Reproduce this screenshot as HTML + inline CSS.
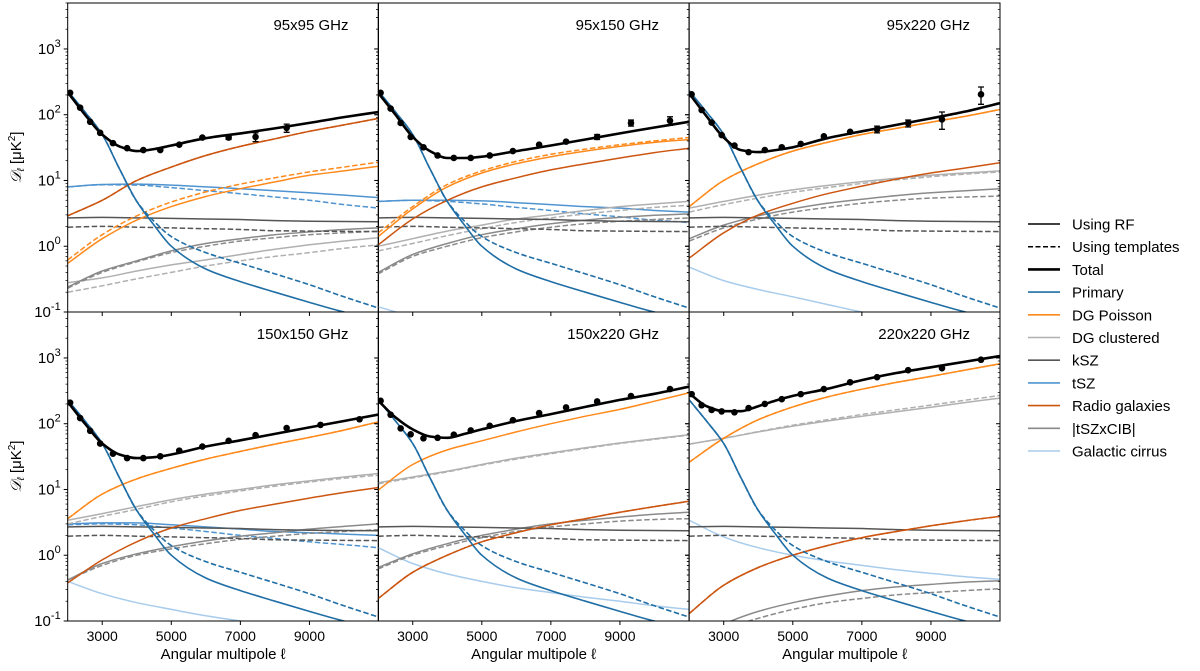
<!DOCTYPE html>
<html><head><meta charset="utf-8">
<style>
body{margin:0;background:#fff;}
svg text{font-family:"Liberation Sans","DejaVu Sans",sans-serif;fill:#000;}
</style></head>
<body>
<svg id="chart" width="1200" height="666" viewBox="0 0 1200 666" xmlns="http://www.w3.org/2000/svg"></svg>
<script>
// ---- data ----
const LS = [2000,3000,4000,5000,6000,7000,8000,9000,10000,11000];
const LP = [2000,2500,3000,3500,4000,4500,5000,6000,7000,8000,9000,10000,11000];
const binsL = [2070,2360,2650,2940,3310,3720,4190,4680,5230,5900,6660,7440,8340,9320,10450];
const yTickLabels = ["-1","0","1","2","3"];
const xTickValues = [3000,5000,7000,9000];
const panelTitles = ["95x95 GHz","95x150 GHz","95x220 GHz","150x150 GHz","150x220 GHz","220x220 GHz"];

const primaryRF  = [230,110,50,15,4.8,2.1,1.0,0.45,0.29,0.2,0.14,0.1,0.078];
const primaryTpl = [230,110,50,15,4.8,2.4,1.4,0.8,0.55,0.38,0.26,0.17,0.115];

const tot_95x95   = [220,100,50,33,28,30,34,44,52,62,75,92,110];
const tot_95x150  = [215,100,46,28,22,22,23,28,34,42,52,64,78];
const tot_95x220  = [210,95,45,29,27,29,32,44,56,70,88,112,150];
const tot_150x150 = [215,100,50,34,30,31,34,45,56,70,88,110,138];
const tot_150x220 = [225,125,82,64,61,70,82,110,140,180,230,285,365];
const tot_220x220 = [290,185,155,155,185,225,265,340,460,590,720,880,1070];

const pts_95x95   = [215,128,78,53,37,31,29,29,35,45,45,46,63,null,null];
const pts_95x150  = [215,124,75,46,32,24,22,22,24,28,35,39,46,75,81];
const pts_95x220  = [204,118,76,49,34,27,29,32,36,47,55,60,74,85,204];
const pts_150x150 = [209,122,78,50,35,30,30,32,39,45,55,67,86,96,117];
const pts_150x220 = [223,137,85,69,60,61,68,79,93,113,145,177,218,263,337];
const pts_220x220 = [282,191,162,154,149,173,200,236,282,337,427,510,651,700,940];
const err_95x95   = [0,0,0,0,0,0,0,0,0,0,3,7,9,0,0];
const err_95x150  = [0,0,0,0,0,0,0,0,0,0,0,0,4,8,12];
const err_95x220  = [0,0,0,0,0,0,0,0,0,0,0,7,9,25,60];

// DG Poisson
const dgp_95x95 = [0.55,1.3,2.5,4,5.7,7.5,9.5,12,14,16.5];
const dgpT_95x95 = [0.62,1.5,2.9,4.7,6.7,8.8,11,13.5,16,19];
const dgp_95x150 = [1.4,3.7,8,13,18,23,28,33,38,42];
const dgpT_95x150 = [1.6,4,8.7,14,19.5,25,30,35,40,45];
const dgp_95x220 = [4,10,18,28,38,50,62,77,95,120];
const dgp_150x150 = [3.6,8.5,14.5,21,29,38,49,62,80,107];
const dgp_150x220 = [9.8,24,40,55,75,100,130,165,220,295];
const dgp_220x220 = [26,60,115,180,255,335,425,525,655,815];
// Radio
const rad_95x95 = [2.9,5,10,16,24,33,43,56,70,88];
const rad_95x150 = [1.05,2.6,5,8,11,14.5,18,22,26.5,31];
const rad_95x220 = [0.66,1.6,3,4.5,6.3,8.2,10.5,13,15.5,18.6];
const rad_150x150 = [0.38,0.85,1.6,2.6,3.6,4.8,6.0,7.4,9,10.7];
const rad_150x220 = [0.22,0.55,1.0,1.6,2.2,2.9,3.6,4.5,5.5,6.6];
const rad_220x220 = [0.13,0.35,0.65,1.0,1.4,1.85,2.3,2.8,3.35,3.9];
// DG clustered
const dgc_95x95 = [0.28,0.33,0.42,0.52,0.62,0.75,0.9,1.05,1.2,1.35];
const dgcT_95x95 = [0.2,0.25,0.32,0.4,0.5,0.6,0.7,0.8,0.93,1.05];
const dgc_95x150 = [1.0,1.3,1.7,2.1,2.6,3.0,3.5,4.0,4.4,4.8];
const dgcT_95x150 = [0.85,1.1,1.45,1.85,2.3,2.7,3.1,3.5,3.9,4.2];
const dgc_95x220 = [3.8,4.8,6,7.2,8.4,9.6,10.8,12,13,14];
const dgcT_95x220 = [3.3,4.3,5.4,6.6,7.8,9,10.2,11.4,12.5,13.5];
const dgc_150x150 = [3.4,4.3,5.5,7,8.5,10,11.8,13.5,15.5,17.5];
const dgcT_150x150 = [3.0,3.9,5.0,6.5,8,9.5,11.2,13,14.8,16.5];
const dgc_150x220 = [12.7,15.5,19,24,30,36,43,51,59,68];
const dgcT_150x220 = [12.2,15,18.5,23.5,29,35,42,50,58,67];
const dgc_220x220 = [49,60,75,92,110,130,152,178,210,245];
const dgcT_220x220 = [49,60,76,95,115,138,163,192,228,270];
// kSZ
const ksz = [2.7,2.75,2.7,2.65,2.6,2.55,2.45,2.4,2.38,2.35];
const kszT = [1.95,2.0,1.95,1.9,1.85,1.8,1.72,1.7,1.68,1.67];
// tSZ
const tsz_95x95 = [8,8.7,8.8,8.5,8,7.5,7,6.5,6,5.5];
const tszT_95x95 = [8,8.6,8.5,7.8,7,6.3,5.6,5,4.3,3.8];
const tsz_95x150 = [4.8,5,5,4.9,4.6,4.3,4,3.8,3.5,3.3];
const tszT_95x150 = [4.8,5,4.8,4.4,3.9,3.5,3.1,2.8,2.5,2.3];
const tsz_150x150 = [3,3.1,3.1,2.9,2.7,2.5,2.3,2.2,2.1,2.0];
const tszT_150x150 = [2.9,3.0,2.9,2.6,2.3,2.0,1.8,1.6,1.45,1.3];
// tSZxCIB
const tc_95x95 = [0.24,0.42,0.6,0.85,1.1,1.3,1.5,1.65,1.8,1.9];
const tcT_95x95 = [0.23,0.4,0.58,0.8,1.0,1.2,1.35,1.5,1.6,1.7];
const tc_95x150 = [0.4,0.75,1.1,1.5,1.85,2.2,2.5,2.75,2.95,3.1];
const tcT_95x150 = [0.38,0.7,1.0,1.35,1.65,1.95,2.2,2.4,2.55,2.7];
const tc_95x220 = [1.3,2.1,2.9,3.7,4.5,5.2,5.9,6.5,7,7.5];
const tcT_95x220 = [1.2,1.9,2.6,3.3,3.9,4.5,5,5.4,5.6,5.8];
const tc_150x150 = [0.42,0.75,1.05,1.35,1.65,1.95,2.2,2.5,2.75,3.0];
const tcT_150x150 = [0.42,0.7,1.0,1.25,1.5,1.75,1.95,2.15,2.3,2.45];
const tc_150x220 = [0.65,1.05,1.5,2.0,2.5,3.0,3.4,3.8,4.2,4.5];
const tcT_150x220 = [0.62,1.0,1.4,1.85,2.3,2.7,3.0,3.3,3.5,3.6];
const tc_220x220 = [0.05,0.09,0.14,0.19,0.24,0.29,0.33,0.36,0.39,0.41];
const tcT_220x220 = [0.04,0.075,0.11,0.15,0.19,0.22,0.25,0.27,0.29,0.31];
// Galactic cirrus
const cir_95x150 = [0.12,0.085,0.065,0.05,0.04,0.035,0.03,0.026,0.023,0.02];
const cir_95x220 = [0.48,0.3,0.22,0.17,0.13,0.1,0.08,0.068,0.058,0.05];
const cir_150x150 = [0.4,0.26,0.19,0.15,0.12,0.1,0.085,0.072,0.062,0.055];
const cir_150x220 = [1.3,0.75,0.52,0.4,0.32,0.27,0.23,0.2,0.17,0.15];
const cir_220x220 = [3.4,1.9,1.3,1.0,0.82,0.7,0.6,0.53,0.47,0.43];

// ---- styles / layout ----
const C = {tot:"#000",pri:"#1f6ea6",dgp:"#ff8a1c",dgc:"#b0b0b0",ksz:"#555555",tsz:"#4f94d0",rad:"#cc5510",tc:"#8a8a8a",cir:"#a8ccec"};
const colX = [67.7,378.2,689.2], rowY = [3,312], PW = 310.8, PH = 309;
const XMIN=2000, XMAX=11000, LOGMIN=-1, LOGMAX=Math.log10(5000);

const panels = [
 {tot:tot_95x95,pts:pts_95x95,err:err_95x95,series:[
  [tsz_95x95,C.tsz,0],[tszT_95x95,C.tsz,1],[dgc_95x95,C.dgc,0],[dgcT_95x95,C.dgc,1],[tc_95x95,C.tc,0],[tcT_95x95,C.tc,1],
  [ksz,C.ksz,0],[kszT,C.ksz,1],[dgp_95x95,C.dgp,0],[dgpT_95x95,C.dgp,1],[rad_95x95,C.rad,0],[rad_95x95,C.rad,1]]},
 {tot:tot_95x150,pts:pts_95x150,err:err_95x150,series:[
  [cir_95x150,C.cir,0],[tsz_95x150,C.tsz,0],[tszT_95x150,C.tsz,1],[dgc_95x150,C.dgc,0],[dgcT_95x150,C.dgc,1],[tc_95x150,C.tc,0],[tcT_95x150,C.tc,1],
  [ksz,C.ksz,0],[kszT,C.ksz,1],[rad_95x150,C.rad,0],[dgp_95x150,C.dgp,0],[dgpT_95x150,C.dgp,1]]},
 {tot:tot_95x220,pts:pts_95x220,err:err_95x220,series:[
  [cir_95x220,C.cir,0],[dgc_95x220,C.dgc,0],[dgcT_95x220,C.dgc,1],[tc_95x220,C.tc,0],[tcT_95x220,C.tc,1],
  [ksz,C.ksz,0],[kszT,C.ksz,1],[rad_95x220,C.rad,0],[dgp_95x220,C.dgp,0],[dgp_95x220,C.dgp,1]]},
 {tot:tot_150x150,pts:pts_150x150,err:null,series:[
  [cir_150x150,C.cir,0],[tsz_150x150,C.tsz,0],[tszT_150x150,C.tsz,1],[dgc_150x150,C.dgc,0],[dgcT_150x150,C.dgc,1],[tc_150x150,C.tc,0],[tcT_150x150,C.tc,1],
  [ksz,C.ksz,0],[kszT,C.ksz,1],[rad_150x150,C.rad,0],[dgp_150x150,C.dgp,0],[dgp_150x150,C.dgp,1]]},
 {tot:tot_150x220,pts:pts_150x220,err:null,series:[
  [cir_150x220,C.cir,0],[dgc_150x220,C.dgc,0],[dgcT_150x220,C.dgc,1],[tc_150x220,C.tc,0],[tcT_150x220,C.tc,1],
  [ksz,C.ksz,0],[kszT,C.ksz,1],[rad_150x220,C.rad,0],[rad_150x220,C.rad,1],[dgp_150x220,C.dgp,0]]},
 {tot:tot_220x220,pts:pts_220x220,err:null,series:[
  [cir_220x220,C.cir,0],[dgc_220x220,C.dgc,0],[dgcT_220x220,C.dgc,1],[tc_220x220,C.tc,0],[tcT_220x220,C.tc,1],
  [ksz,C.ksz,0],[kszT,C.ksz,1],[rad_220x220,C.rad,0],[rad_220x220,C.rad,1],[dgp_220x220,C.dgp,0],[dgp_220x220,C.dgp,1]]}
];

const NS="http://www.w3.org/2000/svg";
const svg=document.getElementById('chart');
function mk(tag,attrs,parent){const e=document.createElementNS(NS,tag);for(const k in attrs)e.setAttribute(k,attrs[k]);(parent||svg).appendChild(e);return e;}

function smoothPath(p){
  const n=p.length, dx=[], m=[], t=new Array(n);
  for(let i=0;i<n-1;i++){dx[i]=p[i+1][0]-p[i][0];m[i]=(p[i+1][1]-p[i][1])/dx[i];}
  t[0]=m[0]; t[n-1]=m[n-2];
  for(let i=1;i<n-1;i++){
    if(m[i-1]*m[i]<=0)t[i]=0;
    else{const w1=2*dx[i]+dx[i-1],w2=dx[i]+2*dx[i-1];t[i]=(w1+w2)/(w1/m[i-1]+w2/m[i]);}
  }
  let d="M"+p[0][0].toFixed(1)+","+p[0][1].toFixed(1);
  for(let i=0;i<n-1;i++){
    const h=dx[i]/3;
    d+="C"+(p[i][0]+h).toFixed(1)+","+(p[i][1]+t[i]*h).toFixed(1)+" "+(p[i+1][0]-h).toFixed(1)+","+(p[i+1][1]-t[i+1]*h).toFixed(1)+" "+p[i+1][0].toFixed(1)+","+p[i+1][1].toFixed(1);
  }
  return d;
}

panels.forEach((P,pi)=>{
  const x0=colX[pi%3], y0=rowY[Math.floor(pi/3)];
  const xs=v=>x0+(v-XMIN)/(XMAX-XMIN)*PW;
  const ys=v=>y0+PH-(Math.log10(v)-LOGMIN)/(LOGMAX-LOGMIN)*PH;
  const g=mk('g',{});
  
  
  const cp=mk('clipPath',{id:'clip'+pi},g);
  mk('rect',{x:x0,y:y0,width:PW,height:PH},cp);
  const plot=mk('g',{'clip-path':'url(#clip'+pi+')'},g);
  function line(vals,L,color,dash,w,name){
    const pts=L.map((l,i)=>[xs(l),ys(vals[i])]);
    const el=mk('path',{d:smoothPath(pts),fill:'none',stroke:color,'stroke-width':w,'stroke-dasharray':dash?'5.5,2.5':'none'},plot);
    
    
  }
  P.series.forEach(s=>line(s[0],LS,s[1],s[2],1.5,'component-line'));
  line(primaryTpl,LP,C.pri,1,1.6,'primary-templates-line');
  line(primaryRF,LP,C.pri,0,1.6,'primary-rf-line');
  line(P.tot,LP,C.tot,0,2.6,'total-line');
  P.pts.forEach((v,i)=>{
    if(v==null)return;
    const cx=xs(binsL[i]),cy=ys(v);
    const e=P.err?P.err[i]:0;
    if(e>0){
      const t=ys(v+e),b=ys(Math.max(v-e,0.01));
      const eb=mk('path',{d:`M${cx},${t}V${b}M${cx-3},${t}H${cx+3}M${cx-3},${b}H${cx+3}`,stroke:'#000','stroke-width':1.3,fill:'none'},plot);
      
      
    }
    const c=mk('circle',{cx:cx,cy:cy,r:3.3,fill:'#000'},plot);
    
    
  });
  const fr=mk('rect',{x:x0,y:y0,width:PW,height:PH,fill:'none',stroke:'#000','stroke-width':1},g);
  
  
  for(let d=-1;d<=3;d++){
    for(let m=1;m<=9;m++){
      const v=m*Math.pow(10,d); if(v>5000)break;
      const y=ys(v); const len=m===1?4:2.2;
      mk('line',{x1:x0-len,x2:x0,y1:y,y2:y,stroke:'#000','stroke-width':m===1?1:0.7},g);
      mk('line',{x1:x0+PW-len,x2:x0+PW,y1:y,y2:y,stroke:'#000','stroke-width':m===1?1:0.7},g);
    }
    if(pi%3===0){
      const t=mk('text',{x:x0-7,y:ys(Math.pow(10,d))+5,'font-size':15,'text-anchor':'end'},g);
      
      
      t.innerHTML='10<tspan dy="-7" font-size="11">'+yTickLabels[d+1]+'</tspan>';
    }
  }
  xTickValues.forEach(v=>{
    const x=xs(v);
    mk('line',{x1:x,x2:x,y1:y0+PH,y2:y0+PH+4,stroke:'#000','stroke-width':1},g);
    if(pi>=3){
      const t=mk('text',{x:x,y:y0+PH+20,'font-size':14,'text-anchor':'middle'},g);
      
      
      t.textContent=v;
    }
  });
  const tt=mk('text',{x:x0+PW-30,y:y0+27,'font-size':15,'text-anchor':'end'},g);
  
  
  tt.textContent=panelTitles[pi];
  if(pi>=3){
    const xl=mk('text',{x:x0+PW/2,y:y0+PH+38,'font-size':15,'text-anchor':'middle'},g);
    
    
    xl.textContent='Angular multipole ℓ';
  }
  if(pi%3===0){
    const yl=mk('text',{x:0,y:0,'font-size':15,'text-anchor':'middle',transform:`translate(21,${y0+PH/2}) rotate(-90)`},g);
    
    
    yl.innerHTML='<tspan font-style="italic" font-family="Liberation Serif,serif">𝒟</tspan><tspan font-size="10" dy="3" font-style="italic">ℓ</tspan><tspan dy="-3"> [μK</tspan><tspan dy="-6" font-size="10">2</tspan><tspan dy="6">]</tspan>';
  }
});

const legend=[["Using RF","#000",0,1.5],["Using templates","#000",1,1.5],["Total","#000",0,2.6],["Primary",C.pri,0,1.6],["DG Poisson",C.dgp,0,1.6],["DG clustered",C.dgc,0,1.6],["kSZ",C.ksz,0,1.6],["tSZ",C.tsz,0,1.6],["Radio galaxies",C.rad,0,1.6],["|tSZxCIB|",C.tc,0,1.6],["Galactic cirrus",C.cir,0,1.6]];
const lg=mk('g',{});


legend.forEach((e,i)=>{
  const y=224+i*22.7;
  const ln=mk('line',{x1:1028,x2:1060,y1:y,y2:y,stroke:e[1],'stroke-width':e[3],'stroke-dasharray':e[2]?'5,2.5':'none'},lg);
  
  
  const t=mk('text',{x:1072,y:y+5.5,'font-size':15},lg);
  
  
  t.textContent=e[0];
});
</script>
</body></html>
